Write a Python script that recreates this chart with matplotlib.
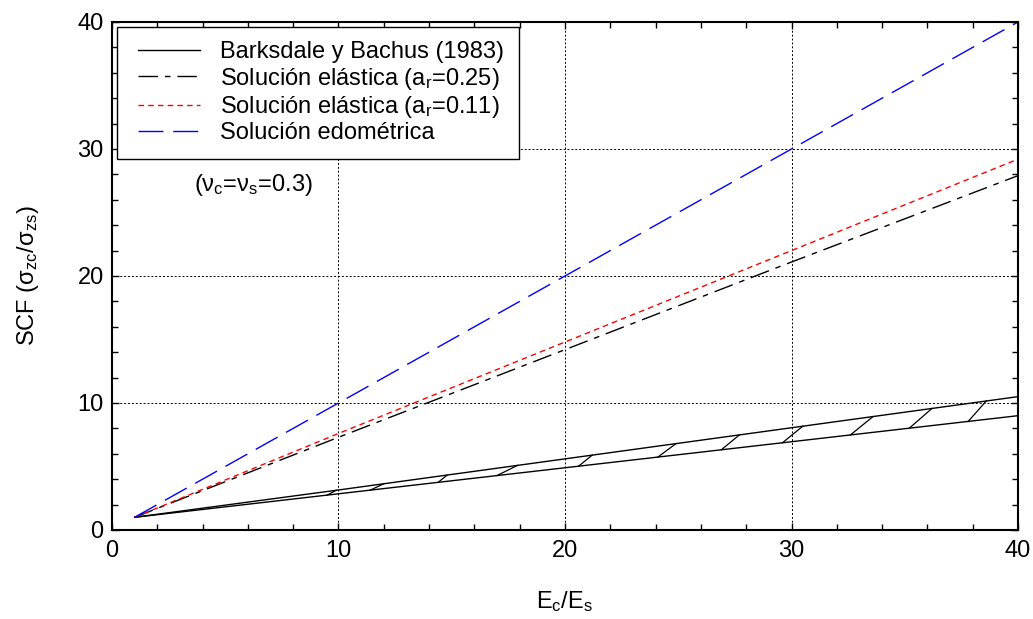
import matplotlib
matplotlib.use("Agg")
import matplotlib.pyplot as plt
import numpy as np
from matplotlib.ticker import MultipleLocator
from matplotlib.legend_handler import HandlerLine2D

plt.rcParams['font.family'] = ['Liberation Sans', 'DejaVu Sans']
plt.rcParams['mathtext.fontset'] = 'custom'
plt.rcParams['mathtext.rm'] = 'Liberation Sans'
plt.rcParams['mathtext.it'] = 'Liberation Sans'

# Modular ratio E_c/E_s
ratio = [1, 10, 20, 30, 40]

# Stress concentration factor for each solution
barksdale_upper = [1.0, 3.15, 5.6, 8.05, 10.5]
barksdale_lower = [1.0, 2.85, 4.9, 6.95, 9.0]
elastic_025 = [1.0, 7.3, 14.2, 21.1, 27.9]
elastic_011 = [1.0, 7.6, 14.8, 22.0, 29.2]
edometric = [1.0, 10.0, 20.0, 30.0, 40.0]

# Hatch strokes across the Barksdale band (x on lower edge -> x on upper edge)
hatch_lower_x = [9.5, 11.4, 14.4, 17.0, 20.6, 24.1, 26.9, 29.6, 32.6, 35.2, 37.8]
hatch_upper_x = [9.9, 12.0, 14.8, 17.9, 21.2, 24.9, 27.7, 30.5, 33.6, 36.2, 38.6]

FS = 17


class IndentedLineHandler(HandlerLine2D):
    """Legend line sample that starts a little to the right of the handle box."""
    def __init__(self, indent=0.2, **kw):
        super().__init__(**kw)
        self.indent = indent

    def create_artists(self, legend, orig_handle, xdescent, ydescent,
                       width, height, fontsize, trans):
        artists = super().create_artists(legend, orig_handle, xdescent, ydescent,
                                         width, height, fontsize, trans)
        for a in artists:
            xd = np.asarray(a.get_xdata(), dtype=float)
            if xd.size >= 2:
                a.set_xdata([xd[0] + self.indent * width, xd[-1]])
                a.set_ydata([a.get_ydata()[0]] * 2)
        return artists


fig = plt.figure(figsize=(10.33, 6.19), dpi=100)
ax = fig.add_axes([0.1084, 0.1438, 0.8771, 0.8207])

lw = 1.0
ax.plot(ratio, barksdale_upper, color='black', lw=lw, label='Barksdale y Bachus (1983)')
ax.plot(ratio, barksdale_lower, color='black', lw=lw)
for xl, xu in zip(hatch_lower_x, hatch_upper_x):
    yl = np.interp(xl, ratio, barksdale_lower)
    yu = np.interp(xu, ratio, barksdale_upper)
    ax.plot([xl, xu], [yl, yu], color='black', lw=0.9)

ax.plot(ratio, elastic_025, color='black', lw=lw, dashes=(14, 5, 4, 5),
        label=r'Solución elástica (a$_\mathregular{r}$=0.25)')
ax.plot(ratio, elastic_011, color='red', lw=lw, dashes=(4, 3),
        label=r'Solución elástica (a$_\mathregular{r}$=0.11)')
ax.plot(ratio, edometric, color='blue', lw=lw, dashes=(18, 7),
        label='Solución edométrica')

ax.set_xlim(0, 40)
ax.set_ylim(0, 40)
ax.xaxis.set_major_locator(MultipleLocator(10))
ax.yaxis.set_major_locator(MultipleLocator(10))
ax.xaxis.set_minor_locator(MultipleLocator(2))
ax.yaxis.set_minor_locator(MultipleLocator(2))
ax.tick_params(which='both', direction='in', top=True, right=True,
               labelsize=FS, width=1)
ax.tick_params(which='major', length=5)
ax.tick_params(which='minor', length=4)
ax.tick_params(axis='x', pad=7)
ax.tick_params(axis='y', pad=6)
ax.grid(True, which='major', color='black', linestyle=(0, (2, 2)), lw=0.7)
for s in ax.spines.values():
    s.set_linewidth(1.5)

ax.set_xlabel(r'E$_\mathregular{c}$/E$_\mathregular{s}$', fontsize=FS, labelpad=20)
ax.set_ylabel(r'SCF ($\mathregular{\sigma}_\mathregular{zc}$/$\mathregular{\sigma}_\mathregular{zs}$)',
              fontsize=FS, labelpad=26)

ax.text(3.6, 27.2, r'($\mathregular{\nu}_\mathregular{c}$=$\mathregular{\nu}_\mathregular{s}$=0.3)',
        fontsize=FS, va='center')

handler = IndentedLineHandler(indent=0.094)
leg = ax.legend(loc='upper left', fontsize=FS, frameon=True, fancybox=False,
                edgecolor='black', framealpha=1, handlelength=2.9,
                borderaxespad=0.2, labelspacing=0.1, handletextpad=0.85,
                borderpad=0.62,
                handler_map={matplotlib.lines.Line2D: handler})
leg.get_frame().set_linewidth(1.0)

fig.savefig('out.png', dpi=100)
